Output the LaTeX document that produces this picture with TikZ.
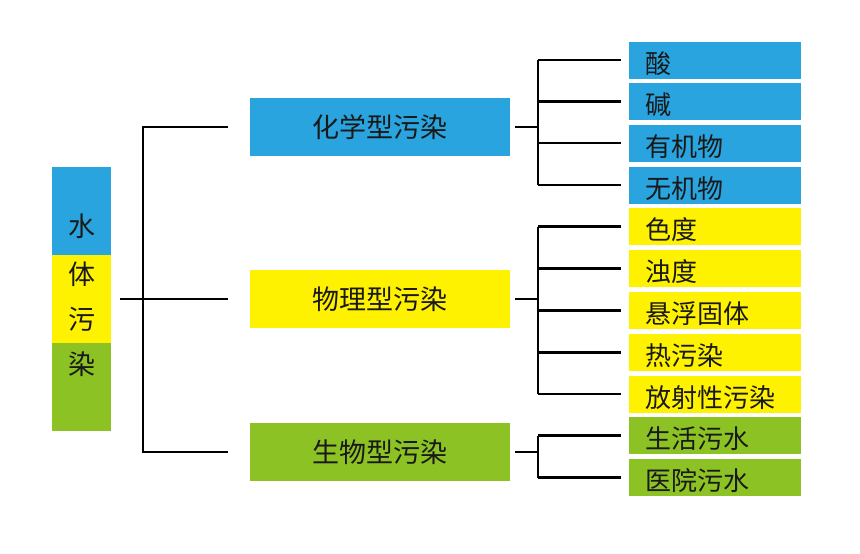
\documentclass[tikz,border=0pt]{standalone}
\usepackage{fontspec}
\newfontfamily\cjk{Noto Sans CJK SC}
\definecolor{cblue}{RGB}{41,164,222}
\definecolor{cyellow}{RGB}{255,242,0}
\definecolor{cgreen}{RGB}{140,194,36}
\definecolor{txt}{RGB}{25,25,25}
\begin{document}
\begin{tikzpicture}[x=1pt,y=-1pt,
  conn/.style={line width=2.6pt, black},
  midbox/.style={minimum width=260pt, minimum height=58pt, inner sep=0pt,
    font=\cjk\fontsize{27}{27}\selectfont, text=txt},
  leafbox/.style={anchor=west, text width=140pt, inner xsep=16pt, inner ysep=0pt,
    minimum height=37pt, align=left, text height=28pt, text depth=2pt,
    font=\cjk\fontsize{26}{26}\selectfont, text=txt},
  lefttext/.style={inner sep=0pt, font=\cjk\fontsize{27}{27}\selectfont, text=txt},
]
\useasboundingbox (0,0) rectangle (860,554);
% left box
\node[minimum width=59pt, minimum height=264pt, inner sep=0pt] (L) at (81.5,299) {};
\fill[cblue] (L.north west) rectangle (111,255);
\fill[cyellow] (52,255) rectangle (111,343);
\fill[cgreen] (52,343) rectangle (L.south east);
\node[lefttext] (w1) at (81.5,226) {水};
\node[lefttext] (w2) at (81.5,274) {体};
\node[lefttext] (w3) at (81.5,319) {污};
\node[lefttext] (w4) at (81.5,364) {染};
% middle boxes
\node[midbox, fill=cblue] (chem) at (380,127) {化学型污染};
\node[midbox, fill=cyellow] (phys) at (380,299) {物理型污染};
\node[midbox, fill=cgreen] (bio) at (380,452) {生物型污染};
% leaf boxes
\node[leafbox, fill=cblue] (a1) at (629,60) {酸};
\node[leafbox, fill=cblue] (a2) at (629,101.5) {碱};
\node[leafbox, fill=cblue] (a3) at (629,143) {有机物};
\node[leafbox, fill=cblue] (a4) at (629,185) {无机物};
\node[leafbox, fill=cyellow] (b1) at (629,226.5) {色度};
\node[leafbox, fill=cyellow] (b2) at (629,268.5) {浊度};
\node[leafbox, fill=cyellow] (b3) at (629,310.5) {悬浮固体};
\node[leafbox, fill=cyellow] (b4) at (629,352.5) {热污染};
\node[leafbox, fill=cyellow] (b5) at (629,394) {放射性污染};
\node[leafbox, fill=cgreen] (c1) at (629,435.5) {生活污水};
\node[leafbox, fill=cgreen] (c2) at (629,477.5) {医院污水};
% left connectors
\coordinate (bus) at (143,299);
\draw[conn] ([xshift=9pt]L.east) -- (bus);
\draw[conn] ([xshift=-22pt]chem.west) -- (chem.west -| bus) -- (bio.west -| bus) -- ([xshift=-22pt]bio.west);
\draw[conn] (bus) -- ([xshift=-22pt]phys.west);
% right connectors
\coordinate (rb) at (538,0);
\draw[conn] ([xshift=5pt]chem.east) -- (chem.east -| rb);
\draw[conn] ([xshift=5pt]phys.east) -- (phys.east -| rb);
\draw[conn] ([xshift=5pt]bio.east) -- (bio.east -| rb);
\draw[conn] (a1.west -| rb) -- (a4.west -| rb);
\draw[conn] (b1.west -| rb) -- (b5.west -| rb);
\draw[conn] (c1.west -| rb) -- (c2.west -| rb);
\foreach \n in {a1,a2,a3,a4,b1,b2,b3,b4,b5,c1,c2}
  \draw[conn] (\n.west -| rb) -- ([xshift=-8pt]\n.west);
\end{tikzpicture}
\end{document}
